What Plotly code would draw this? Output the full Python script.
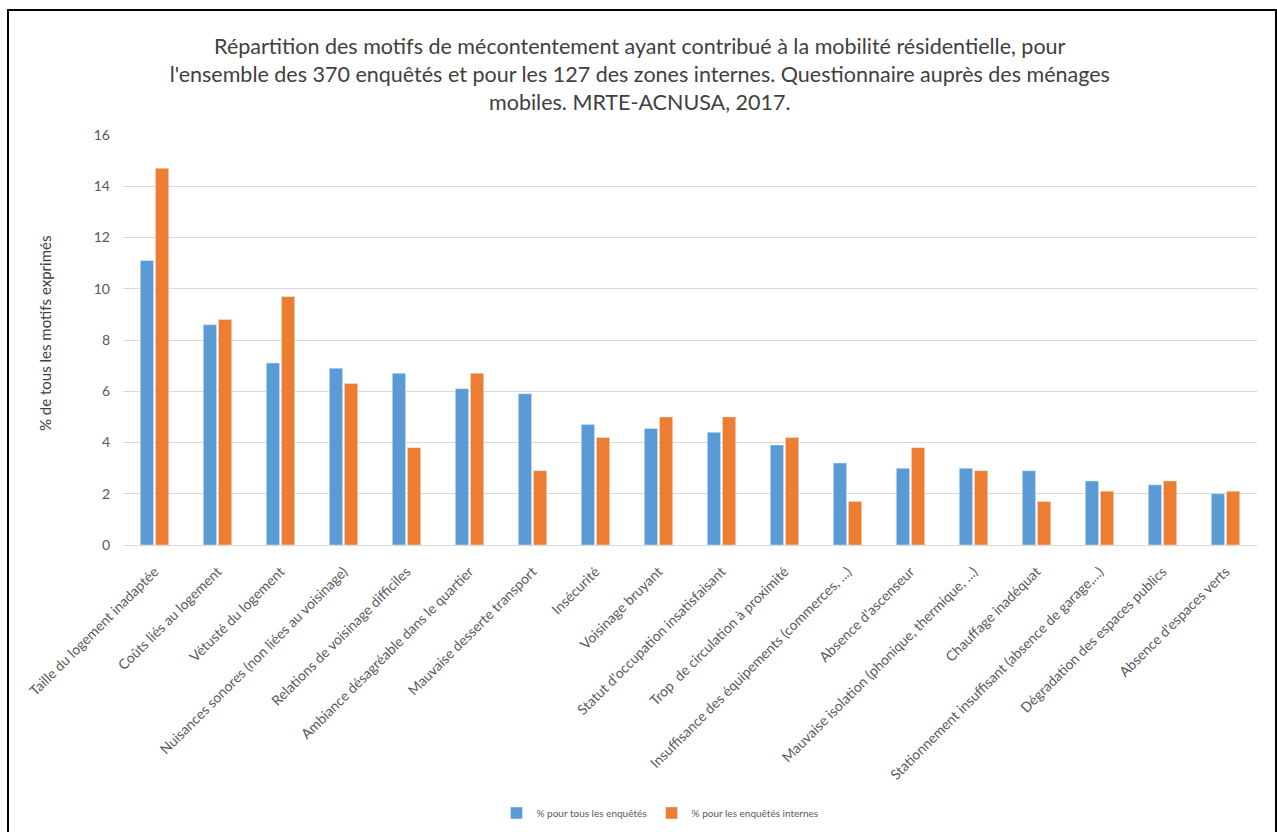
import plotly.graph_objects as go

categories = [
    "Taille du logement inadaptée",
    "Coûts liés au logement",
    "Vétusté du logement",
    "Nuisances sonores (non liées au voisinage)",
    "Relations de voisinage difficiles",
    "Ambiance désagréable dans le quartier",
    "Mauvaise desserte transport",
    "Insécurité",
    "Voisinage bruyant",
    "Statut d'occupation insatisfaisant",
    "Trop  de circulation à proximité",
    "Insuffisance des équipements (commerces, ...)",
    "Absence d'ascenseur",
    "Mauvaise isolation (phonique, thermique, ...)",
    "Chauffage inadéquat",
    "Stationnement insuffisant (absence de garage,...)",
    "Dégradation des espaces publics",
    "Absence d'espaces verts",
]
tous = [11.1, 8.6, 7.1, 6.9, 6.7, 6.1, 5.9, 4.7, 4.55, 4.4, 3.9, 3.2, 3.0, 3.0, 2.9, 2.5, 2.35, 2.0]
internes = [14.7, 8.8, 9.7, 6.3, 3.8, 6.7, 2.9, 4.2, 5.0, 5.0, 4.2, 1.7, 3.8, 2.9, 1.7, 2.1, 2.5, 2.1]
series_names = ["% pour tous les enquêtés", "% pour les enquêtés internes"]
yticks = [0, 2, 4, 6, 8, 10, 12, 14, 16]

FONT = "Lato"
W, H = 1277, 832
L, R, T, B = 123, 20, 135, 287
pw = W - L - R
ph = H - T - B

def px_x(x):
    return (x - L) / pw

def px_y(y):
    return (H - B - y) / ph

fig = go.Figure()
fig.add_trace(go.Bar(x=categories, y=tous, name=series_names[0], marker_color="#5B9BD5"))
fig.add_trace(go.Bar(x=categories, y=internes, name=series_names[1], marker_color="#ED7D31"))

fig.update_layout(
    width=W, height=H,
    margin=dict(l=L, r=R, t=T, b=B, autoexpand=False),
    paper_bgcolor="white", plot_bgcolor="white",
    barmode="group", bargap=0.52, bargroupgap=0.12,
    font=dict(family=FONT, color="#595959"),
    title=dict(
        text="Répartition des motifs de mécontentement ayant contribué à la mobilité résidentielle, pour<br>"
             "l'ensemble des 370 enquêtés et pour les 127 des zones internes. Questionnaire auprès des ménages<br>"
             "mobiles. MRTE-ACNUSA, 2017.",
        x=0.501, xanchor="center", y=1 - 54 / H, yanchor="middle",
        font=dict(family=FONT, size=21.5, color="#404040"),
    ),
    xaxis=dict(
        tickangle=-45, tickfont=dict(size=14, color="#595959"),
        showline=True, linecolor="#d9d9d9", linewidth=1, ticks="",
        showgrid=False, ticklabelstandoff=12,
    ),
    yaxis=dict(
        range=[0, 16], tickvals=yticks, showgrid=True, gridcolor="#d9d9d9",
        zeroline=False, showline=False, tickfont=dict(size=14, color="#595959"),
        ticks="", ticklen=0, ticklabelstandoff=12,
    ),
    legend=dict(
        orientation="h", x=px_x(660), xanchor="center", y=px_y(813), yanchor="middle",
        font=dict(size=10, color="#595959"), itemwidth=30,
    ),
    showlegend=True,
    annotations=[
        dict(text="% de tous les motifs exprimés", xref="paper", yref="paper",
             x=px_x(45), y=px_y(334), textangle=-90, showarrow=False,
             font=dict(size=15, color="#404040"), xanchor="center", yanchor="middle"),
    ],
    shapes=[
        dict(type="rect", xref="paper", yref="paper",
             x0=px_x(8), x1=px_x(1276), y0=px_y(845), y1=px_y(10),
             line=dict(color="black", width=2), fillcolor="rgba(0,0,0,0)", layer="above"),
    ],
)

fig.write_html("out.html", config={"displayModeBar": False},
               post_script="document.body.style.margin='0px';")
